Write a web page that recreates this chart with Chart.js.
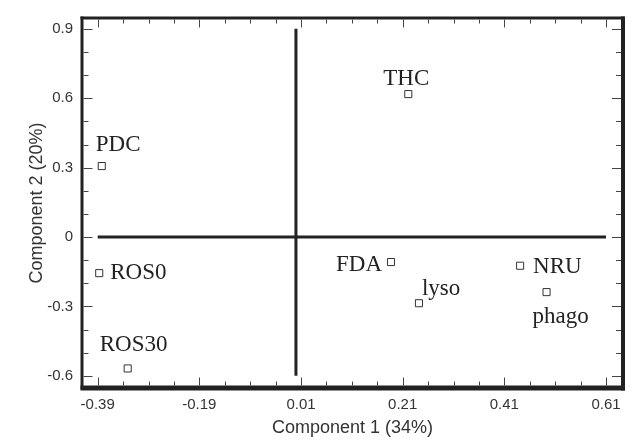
<!DOCTYPE html>
<html><head><meta charset="utf-8">
<script src="https://cdn.jsdelivr.net/npm/chart.js@4/dist/chart.umd.min.js"></script>
<style>html,body{margin:0;padding:0;background:#fff}#wrap{width:634px;height:444px;position:relative}</style>
</head><body><div id="wrap"><canvas id="c"></canvas></div>
<script>
// ---- data ----
const variables  = ['PDC', 'THC', 'ROS0', 'ROS30', 'FDA', 'lyso', 'NRU', 'phago'];
const component1 = [-0.382, 0.221, -0.387, -0.331, 0.187, 0.242, 0.441, 0.493];
const component2 = [0.307, 0.618, -0.156, -0.568, -0.108, -0.286, -0.124, -0.238];
const xTickValues = [-0.39, -0.19, 0.01, 0.21, 0.41, 0.61];
const xTickLabels = ['-0.39', '-0.19', '0.01', '0.21', '0.41', '0.61'];
const yTickValues = [-0.6, -0.3, 0, 0.3, 0.6, 0.9];
const yTickLabels = ['-0.6', '-0.3', '0', '0.3', '0.6', '0.9'];
const xMinorTicks = [-0.39,-0.34,-0.29,-0.24,-0.19,-0.14,-0.09,-0.04,0.01,0.06,0.11,0.16,0.21,0.26,0.31,0.36,0.41,0.46,0.51,0.56,0.61];
const yMinorTicks = [-0.6,-0.5,-0.4,-0.3,-0.2,-0.1,0,0.1,0.2,0.3,0.4,0.5,0.6,0.7,0.8,0.9];
const hLineX = [-0.39, 0.61], hLineY = [0, 0];
const vLineX = [0, 0],        vLineY = [-0.6, 0.9];

// ---- label placement (style, px offsets from marker) ----
const labelPlacement = [
  {dx: -6,  dy: -15, align: 'left'},
  {dx: -2,  dy: -9,  align: 'center'},
  {dx: 11,  dy: 6,   align: 'left'},
  {dx: -28, dy: -17, align: 'left'},
  {dx: -9,  dy: 9,   align: 'right'},
  {dx: 3,   dy: -8,  align: 'left'},
  {dx: 13,  dy: 7,   align: 'left'},
  {dx: -14, dy: 31,  align: 'left'}
];

const INK = '#222';

const framePlugin = {
  id: 'frame',
  afterDraw(chart) {
    const {ctx, chartArea: ca, scales} = chart;
    ctx.save();
    ctx.fillStyle = INK;
    ctx.fillRect(ca.left - 1.5, ca.top - 1.5, 3, ca.bottom - ca.top + 3);
    ctx.fillRect(ca.left - 1.5, ca.top - 1.5, ca.right - ca.left + 3, 3);
    ctx.fillRect(ca.right - 2, ca.top - 1.5, 4, ca.bottom - ca.top + 4);
    ctx.fillRect(ca.left - 1.5, ca.bottom - 2.5, ca.right - ca.left + 3.5, 5);
    ctx.strokeStyle = '#444';
    ctx.lineWidth = 1;
    ctx.beginPath();
    xMinorTicks.forEach(v => {
      const major = xTickValues.some(t => Math.abs(t - v) < 1e-9);
      const len = major ? 8 : 4;
      const x = Math.round(scales.x.getPixelForValue(v)) + 0.5;
      ctx.moveTo(x, ca.top + 1.5); ctx.lineTo(x, ca.top + 1.5 + len);
      ctx.moveTo(x, ca.bottom - 2.5); ctx.lineTo(x, ca.bottom - 2.5 - len);
    });
    yMinorTicks.forEach(v => {
      const major = yTickValues.some(t => Math.abs(t - v) < 1e-9);
      const len = major ? 9 : 5;
      const y = Math.round(scales.y.getPixelForValue(v)) + 0.5;
      ctx.moveTo(ca.left + 1.5, y); ctx.lineTo(ca.left + 1.5 + len, y);
      ctx.moveTo(ca.right - 2, y); ctx.lineTo(ca.right - 2 - len, y);
    });
    ctx.stroke();
    ctx.restore();
  },
  afterDatasetsDraw(chart) {
    const {ctx} = chart;
    const meta = chart.getDatasetMeta(0);
    ctx.save();
    ctx.fillStyle = INK;
    ctx.font = '23px "Liberation Serif", "Times New Roman", serif';
    ctx.textBaseline = 'alphabetic';
    meta.data.forEach((el, i) => {
      const p = labelPlacement[i];
      ctx.textAlign = p.align;
      ctx.fillText(variables[i], el.x + p.dx, el.y + p.dy);
    });
    ctx.restore();
  }
};

new Chart(document.getElementById('c'), {
  type: 'scatter',
  data: {
    datasets: [
      {
        data: variables.map((n, i) => ({x: component1[i], y: component2[i]})),
        pointStyle: 'rect', pointRadius: 5, pointHoverRadius: 5,
        borderWidth: 1, borderColor: '#333', backgroundColor: '#fff', showLine: false
      },
      {
        data: hLineX.map((x, i) => ({x, y: hLineY[i]})),
        showLine: true, borderColor: INK, borderWidth: 3, pointRadius: 0, fill: false
      },
      {
        data: vLineX.map((x, i) => ({x, y: vLineY[i]})),
        showLine: true, borderColor: INK, borderWidth: 3, pointRadius: 0, fill: false
      }
    ]
  },
  options: {
    responsive: true, maintainAspectRatio: false, animation: false,
    layout: {padding: {top: 13, right: 11, bottom: 0, left: 0}},
    plugins: {legend: {display: false}, tooltip: {enabled: false}},
    scales: {
      x: {
        type: 'linear', min: -0.4209, max: 0.6434,
        afterBuildTicks: s => { s.ticks = xTickValues.map(v => ({value: v})); },
        afterFit: s => { s.height = 56; },
        grid: {display: false, drawTicks: false}, border: {display: false},
        ticks: {
          callback: v => xTickLabels[xTickValues.indexOf(v)],
          font: {family: '"Liberation Sans", Arial, sans-serif', size: 15},
          color: '#333', padding: 8, maxRotation: 0, autoSkip: false
        },
        title: {display: true, text: 'Component 1 (34%)', color: '#333',
          font: {family: '"Liberation Sans", Arial, sans-serif', size: 18},
          padding: {top: 0, bottom: 5}}
      },
      y: {
        type: 'linear', min: -0.6525, max: 0.9469,
        afterBuildTicks: s => { s.ticks = yTickValues.map(v => ({value: v})); },
        afterFit: s => { s.width = 82; },
        grid: {display: false, drawTicks: false}, border: {display: false},
        ticks: {
          callback: v => yTickLabels[yTickValues.indexOf(v)],
          font: {family: '"Liberation Sans", Arial, sans-serif', size: 15},
          color: '#333', padding: 9, autoSkip: false
        },
        title: {display: true, text: 'Component 2 (20%)', color: '#333',
          font: {family: '"Liberation Sans", Arial, sans-serif', size: 18},
          padding: {top: 26, bottom: 0}}
      }
    }
  },
  plugins: [framePlugin]
});
</script></body></html>
